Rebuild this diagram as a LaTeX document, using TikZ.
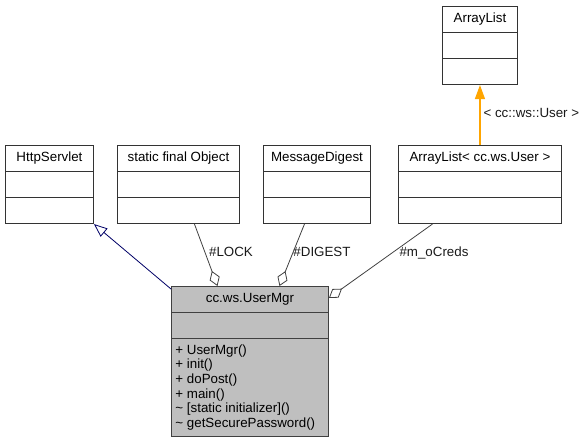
\documentclass[tikz,border=0pt]{standalone}
\usepackage{fontspec}
\setmainfont{Liberation Sans}
\usetikzlibrary{arrows.meta,calc,shapes.multipart}

\definecolor{tmplorange}{RGB}{255,165,0}

\tikzset{
  umlclass/.style={rectangle split, rectangle split parts=3, draw=black!80,
    fill=white, line width=0.7pt, font=\fontsize{10}{11}\selectfont,
    inner xsep=3pt, inner ysep=4pt, anchor=north west, align=left,
    rectangle split empty part height=10.75pt,
    rectangle split empty part depth=0pt,
    rectangle split part align={center,center,left}},
  aggr/.style={draw=black!75, line width=0.6pt,
    {Diamond[open,length=12pt,width=8pt,line width=0.6pt]}-},
  edgelabel/.style={font=\fontsize{10}{11}\selectfont, text=black!90, inner sep=1pt},
}

\begin{document}
\begin{tikzpicture}[x=0.75pt,y=0.75pt]
\useasboundingbox (0,0) rectangle (583,-441);

% Classes
\node[umlclass, minimum width=66pt] (servlet) at (5,-145)
  {\strut HttpServlet \nodepart{two} \nodepart{three}};
\node[umlclass, minimum width=91.5pt] (object) at (117,-145)
  {\strut static final Object \nodepart{two} \nodepart{three}};
\node[umlclass, minimum width=80.25pt] (digest) at (263,-145)
  {\strut MessageDigest \nodepart{two} \nodepart{three}};
\node[umlclass, minimum width=122.25pt] (userlist) at (398,-145)
  {\strut ArrayList< cc.ws.User > \nodepart{two} \nodepart{three}};
\node[umlclass, minimum width=56.25pt] (arraylist) at (442,-6)
  {\strut ArrayList \nodepart{two} \nodepart{three}};
\node[umlclass, minimum width=117.75pt, fill=black!25, draw=black!75] (usermgr) at (171,-286)
  {\strut cc.ws.UserMgr \nodepart{two} \nodepart{three}
   + UserMgr()\\
   + init()\\
   + doPost()\\
   + main()\\
   \textasciitilde{} [static initializer]()\\
   \textasciitilde{} getSecurePassword()};

% Inheritance
\draw[-{Triangle[open,length=10pt,width=8pt]}, draw=blue!40!black, line width=0.6pt]
  ($(usermgr.north west)+(0,-3)$) -- (servlet.south east);

% Template instance
\draw[-{Triangle[length=10.5pt,width=7.5pt]}, draw=tmplorange, fill=tmplorange, line width=1pt]
  (userlist.north) -- (arraylist.south);
\node[edgelabel, anchor=west] (tmplarg) at (482,-113) {< cc::ws::User >};

% Members
\draw[aggr] ($(usermgr.north)+(-32.5,0)$) -- ($(object.south)+(16,0)$);
\node[edgelabel] (lock) at (231,-252) {\#LOCK};

\draw[aggr] ($(usermgr.north)+(29.5,0)$) -- ($(digest.south)+(-12.5,0)$);
\node[edgelabel] (dig) at (322,-252) {\#DIGEST};

\draw[aggr] ($(usermgr.north east)+(0,-12)$) -- ($(userlist.south)+(-47.5,0)$);
\node[edgelabel] (creds) at (434,-253) {\#m\_oCreds};
\end{tikzpicture}
\end{document}
